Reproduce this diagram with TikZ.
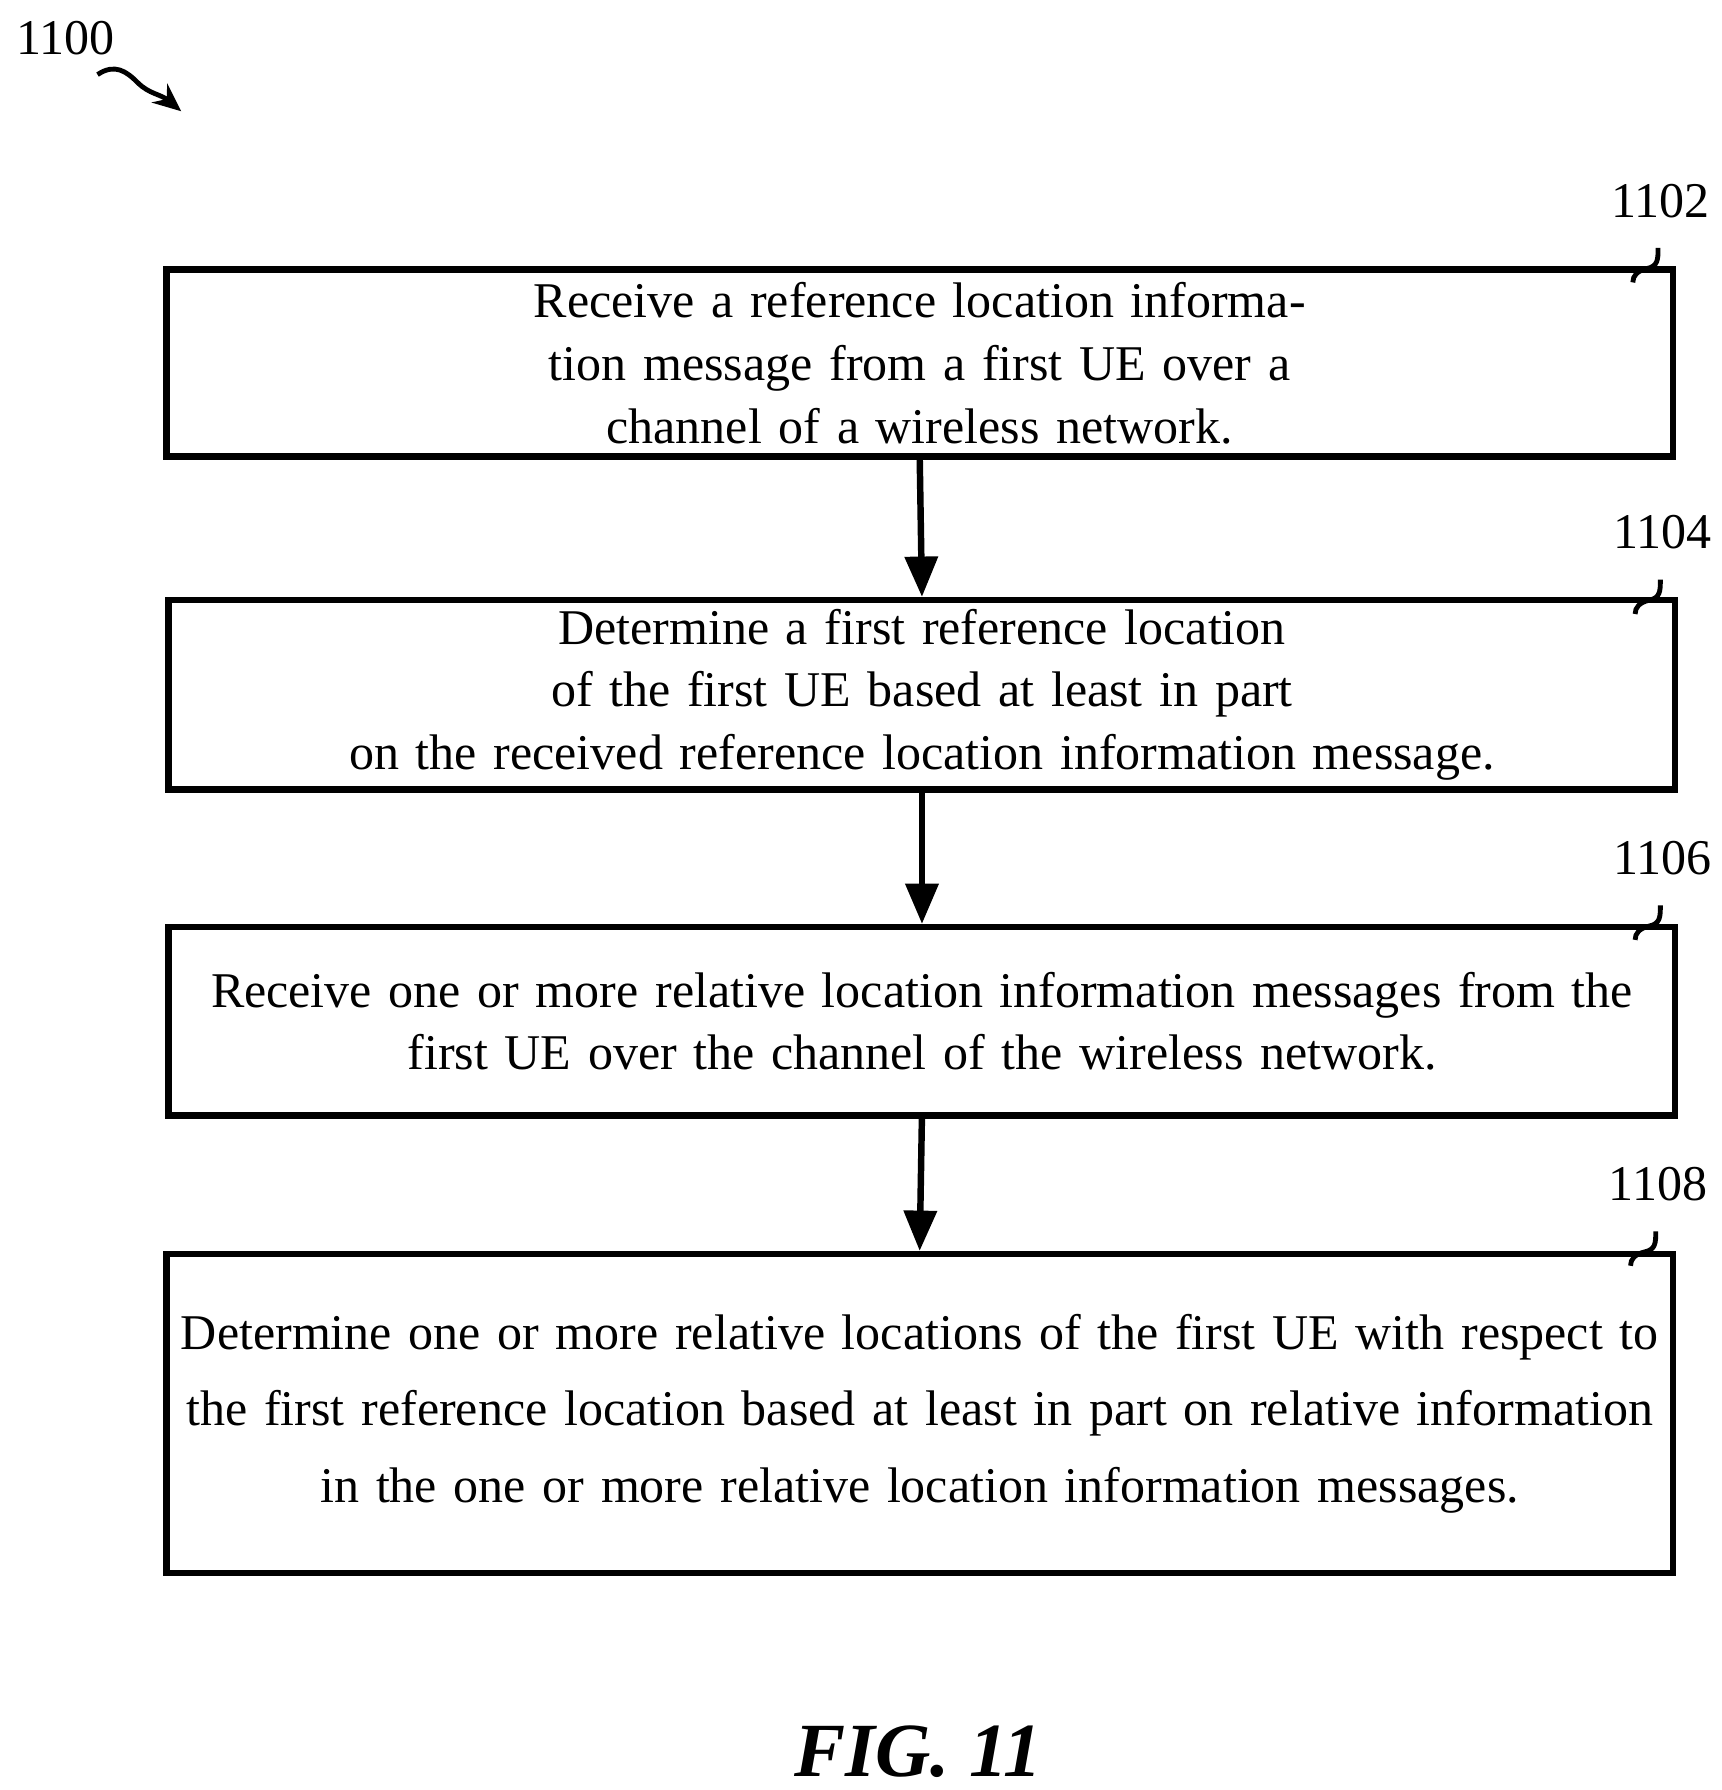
\documentclass[tikz,border=0pt]{standalone}
\usepackage{fontspec}
\setmainfont{Liberation Serif}
\usetikzlibrary{arrows.meta}
\tikzset{
  flowstep/.style={draw, line width=1.6pt, minimum width=13.13cm, text width=12.9cm,
    inner sep=0pt, align=center, font=\fontsize{12.4}{15.6}\selectfont},
  ref/.style={font=\fontsize{12.4}{14}\selectfont},
  flow/.style={line width=1.6pt, -{Triangle[length=10pt,width=8pt]}},
  squig/.style={line width=1.2pt}
}
\begin{document}
\begin{tikzpicture}[x=0.1mm,y=-0.1mm]
\useasboundingbox (0,0) rectangle (1500,1560);
% steps
\node[flowstep, minimum height=16.3mm] (s1) at (801.5,316.5)
  {Receive a reference location information message from a first UE over a\\channel of a wireless network.};
\node[flowstep, minimum height=16.5mm] (s2) at (803.5,605.5)
  {Determine a first reference location of the first UE based at least in part\\on the received reference location information message.};
\node[flowstep, minimum height=16.4mm] (s3) at (803.5,890)
  {Receive one or more relative location information messages from the\\first UE over the channel of the wireless network.};
\node[flowstep, minimum height=27.8mm, font=\fontsize{12.4}{19}\selectfont] (s4) at (801.5,1232)
  {Determine one or more relative locations of the first UE with respect to\\the first reference location based at least in part on relative information\\in the one or more relative location information messages.};
\draw[flow] (s1.south) ++(0,0.4mm) -- (s2.north);
\draw[flow] (s2.south) ++(0,0.4mm) -- (s3.north);
\draw[flow] (s3.south) ++(0,0.4mm) -- (s4.north);
% reference numbers
\node[ref] (r1102) at (1447,175) {1102};
\node[ref] (r1104) at (1449,464) {1104};
\node[ref] (r1106) at (1449,748) {1106};
\node[ref] (r1108) at (1445,1032) {1108};
\foreach \r in {r1102, r1104, r1106, r1108}
  \draw[squig] (\r.south) ++(-2,14) .. controls +(0,10) and +(10,-2) .. ++(-10,18)
    .. controls +(-8,2) and +(0,-6) .. ++(-12,12);
\node[ref] (r1100) at (57,33) {1100};
\draw[squig, -{Stealth[length=7pt,width=6pt]}] (85,65) .. controls (100,55) and (110,62) .. (120,72)
  .. controls (130,82) and (140,82) .. (158,97);
\node[font=\fontsize{19}{19}\selectfont\bfseries\itshape] (fig) at (800,1527) {FIG. 11};
\end{tikzpicture}
\end{document}
